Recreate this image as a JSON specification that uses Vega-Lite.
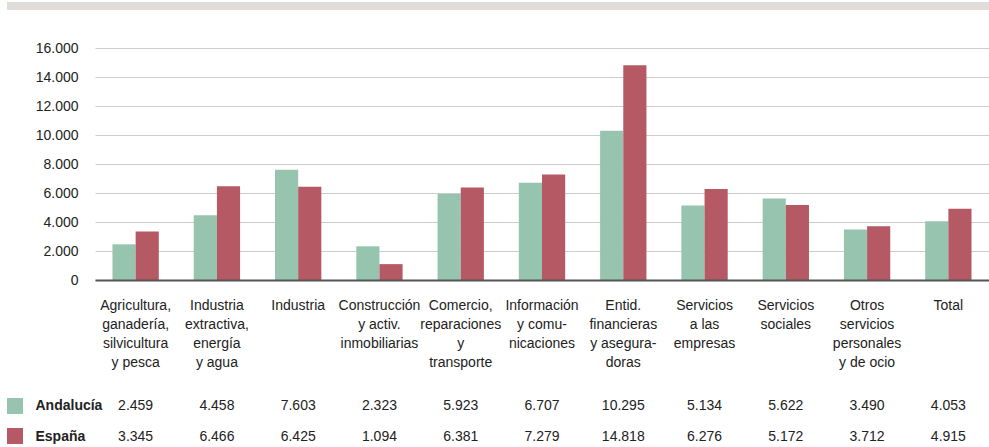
{
  "$schema": "https://vega.github.io/schema/vega-lite/v6.json",
  "padding": {"left": 7, "top": 2, "right": 0, "bottom": 0},
  "background": "white",
  "config": {
    "locale": {"number": {"decimal": ",", "thousands": ".", "grouping": [3], "currency": ["", " €"]}},
    "font": "Liberation Sans",
    "view": {"stroke": null},
    "axis": {"labelFont": "Liberation Sans", "labelFontSize": 14, "labelColor": "#222222"}
  },
  "datasets": {
    "d": [
      {"cat": "Agricultura,|ganadería,|silvicultura|y pesca", "series": "Andalucía", "value": 2459},
      {"cat": "Agricultura,|ganadería,|silvicultura|y pesca", "series": "España", "value": 3345},
      {"cat": "Industria|extractiva,|energía|y agua", "series": "Andalucía", "value": 4458},
      {"cat": "Industria|extractiva,|energía|y agua", "series": "España", "value": 6466},
      {"cat": "Industria", "series": "Andalucía", "value": 7603},
      {"cat": "Industria", "series": "España", "value": 6425},
      {"cat": "Construcción|y activ.|inmobiliarias", "series": "Andalucía", "value": 2323},
      {"cat": "Construcción|y activ.|inmobiliarias", "series": "España", "value": 1094},
      {"cat": "Comercio,|reparaciones|y|transporte", "series": "Andalucía", "value": 5923},
      {"cat": "Comercio,|reparaciones|y|transporte", "series": "España", "value": 6381},
      {"cat": "Información|y comu-|nicaciones", "series": "Andalucía", "value": 6707},
      {"cat": "Información|y comu-|nicaciones", "series": "España", "value": 7279},
      {"cat": "Entid.|financieras|y asegura-|doras", "series": "Andalucía", "value": 10295},
      {"cat": "Entid.|financieras|y asegura-|doras", "series": "España", "value": 14818},
      {"cat": "Servicios|a las|empresas", "series": "Andalucía", "value": 5134},
      {"cat": "Servicios|a las|empresas", "series": "España", "value": 6276},
      {"cat": "Servicios|sociales", "series": "Andalucía", "value": 5622},
      {"cat": "Servicios|sociales", "series": "España", "value": 5172},
      {"cat": "Otros|servicios|personales|y de ocio", "series": "Andalucía", "value": 3490},
      {"cat": "Otros|servicios|personales|y de ocio", "series": "España", "value": 3712},
      {"cat": "Total", "series": "Andalucía", "value": 4053},
      {"cat": "Total", "series": "España", "value": 4915}
    ]
  },
  "spacing": 31,
  "vconcat": [
    {
      "width": 982,
      "height": 8,
      "data": {"values": [{"band": "top"}]},
      "mark": {"type": "rect", "color": "#e0dcda"},
      "encoding": {}
    },
    {
      "bounds": "flush",
      "spacing": 0,
      "hconcat": [
        {
          "width": 88,
          "height": 1,
          "data": {"values": []},
          "mark": {"type": "point", "opacity": 0},
          "encoding": {}
        },
        {
          "data": {"name": "d"},
          "bounds": "flush",
          "spacing": 110,
          "resolve": {"legend": {"color": "independent"}},
          "vconcat": [
            {
              "width": 894,
              "height": 232,
              "mark": {"type": "bar"},
              "encoding": {
                "x": {
                  "field": "cat", "type": "nominal", "sort": null,
                  "scale": {"paddingInner": 0.43, "paddingOuter": 0.215},
                  "axis": {
                    "title": null, "labelAngle": 0, "ticks": false, "grid": false,
                    "domainColor": "#555555", "domainWidth": 2, "zindex": 1,
                    "labelPadding": 18, "labelBaseline": "top", "labelAlign": "center",
                    "labelExpr": "split(datum.label, '|')", "labelLineHeight": 19
                  }
                },
                "xOffset": {"field": "series", "type": "nominal", "sort": ["Andalucía", "España"]},
                "y": {
                  "field": "value", "type": "quantitative",
                  "scale": {"domain": [0, 16000]},
                  "axis": {
                    "title": null, "values": [0, 2000, 4000, 6000, 8000, 10000, 12000, 14000, 16000],
                    "format": ",d", "ticks": false, "domain": false, "labelPadding": 17,
                    "gridColor": "#cccccc", "gridWidth": 1
                  }
                },
                "color": {
                  "field": "series", "type": "nominal", "sort": ["Andalucía", "España"],
                  "scale": {"range": ["#97c4ae", "#b55a65"]},
                  "legend": {
                    "orient": "none", "legendX": -88, "legendY": 350, "title": null,
                    "symbolType": "square", "symbolSize": 256, "symbolStrokeWidth": 0,
                    "labelExpr": "''", "labelFontSize": 10, "rowPadding": 14, "padding": 0
                  }
                }
              }
            },
            {
              "width": 894,
              "height": 62,
              "mark": {"type": "text", "fontSize": 14, "font": "Liberation Sans", "color": "#222222"},
              "encoding": {
                "x": {
                  "field": "cat", "type": "nominal", "sort": null,
                  "scale": {"paddingInner": 0.43, "paddingOuter": 0.215},
                  "axis": null
                },
                "y": {
                  "field": "series", "type": "nominal", "sort": ["Andalucía", "España"],
                  "scale": {"paddingInner": 0, "paddingOuter": 0},
                  "axis": {
                    "title": null, "ticks": false, "domain": false, "grid": false,
                    "labelAlign": "left", "labelPadding": 60, "labelFontWeight": "bold",
                    "labelFontSize": 14
                  }
                },
                "text": {"field": "value", "type": "quantitative", "format": ",d"}
              }
            }
          ]
        }
      ]
    }
  ]
}
